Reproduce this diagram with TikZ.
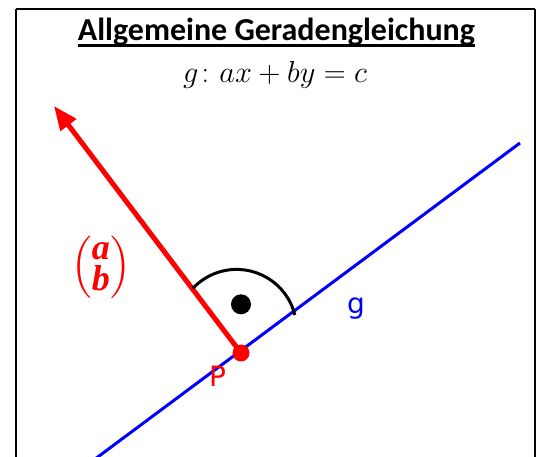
\documentclass[tikz,border=0pt]{standalone}
\usepackage{amsmath}
\usepackage{graphicx}
\usepackage{fontspec}
\setmainfont{Carlito}
\newfontfamily\labelfont{DejaVu Sans}
\newfontfamily\vecfont{Liberation Serif}
\usetikzlibrary{arrows.meta}
\tikzset{
  txt/.style={inner sep=0pt, anchor=base},
  frameline/.style={draw=black, line width=2.5pt},
  gline/.style={draw=blue, line width=3pt},
  nvec/.style={draw=red, line width=5pt, -{Triangle[length=24pt,width=19pt]}},
  anglearc/.style={draw=black, line width=3pt},
}
\begin{document}
\begin{tikzpicture}[x=1pt,y=1pt]
\useasboundingbox (0,0) rectangle (547,-457);
\fill[white] (0,0) rectangle (547,-457);
% frame
\path[frameline] (16,-9) -- (16,-470) (535,-9) -- (535,-470) (16,-9) -- (535,-9);
% title
\node[txt] (title) at (276.5,-41) {\fontsize{32}{38}\selectfont\bfseries Allgemeine Geradengleichung};
\draw[line width=2.5pt] ([yshift=-4.5pt]title.base west) -- ([yshift=-4.5pt]title.base east);
\node[txt] (eq) at (275,-83) {\scalebox{1.22}{\fontsize{24.88}{30}\selectfont $g\colon ax + by = c$}};
% line g
\coordinate (g1) at (87,-465);
\coordinate (g2) at (520,-143);
\coordinate (P) at (241,-353);
\coordinate (tip) at (54,-106);
\path[gline] (g1) -- (g2);
% normal vector
\path[nvec] (P) -- (tip);
% right angle mark
\coordinate (ac) at (236.6,-329.4);
\path[anglearc] ([shift={(13.9:60)}]ac) arc[start angle=13.9, end angle=136.9, radius=60];
\fill[black] (241,-304.3) circle[radius=10];
% point P
\fill[red] (P) circle[radius=8.5];
% labels
\node[txt, text=red] (Plbl) at (217.5,-386.5) {\labelfont\fontsize{28}{33}\selectfont P};
\node[txt, text=blue] (glbl) at (356,-314) {\labelfont\fontsize{28}{33}\selectfont g};
\node[inner sep=0pt, text=red] (vec) at (101,-267) {\scalebox{2}{\fontsize{18}{20}\selectfont $\left(\vcenter{\hbox{\rule{0pt}{28pt}\raisebox{2.2pt}{\vecfont\bfseries\itshape\shortstack{a\\b}}}}\right)$}};
\end{tikzpicture}
\end{document}
